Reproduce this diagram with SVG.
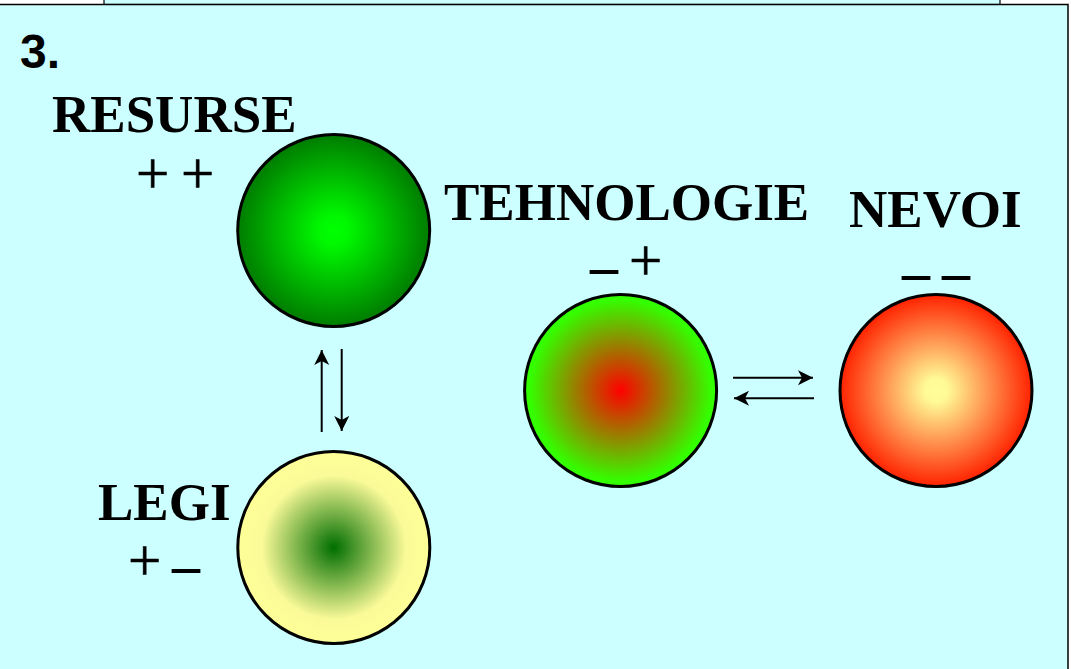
<svg xmlns="http://www.w3.org/2000/svg" width="1071" height="669" viewBox="0 0 1071 669">
  <style>
    .lbl { font-family: "Liberation Serif", "Times New Roman", serif; font-weight: bold; font-size: 53px; fill: #000; }
    .sign { font-family: "Liberation Serif", "Times New Roman", serif; font-size: 59px; fill: #000; stroke: #000; stroke-width: 0.6; }
    .dash { font-family: "Liberation Serif", "Times New Roman", serif; font-weight: bold; font-size: 56px; fill: #000; }
    .num { font-family: "Liberation Sans", Arial, sans-serif; font-weight: bold; font-size: 48px; fill: #000; }
    .ball { stroke: #000; stroke-width: 3; }
    .conn { stroke: #000; stroke-width: 2; fill: none; marker-end: url(#arr); }
  </style>
  <defs>
    <marker id="arr" markerUnits="userSpaceOnUse" markerWidth="16" markerHeight="16" refX="15" refY="7.5" orient="auto">
      <path d="M0,0 L15,7.5 L0,15 L4,7.5 z" fill="#000"/>
    </marker>
    <radialGradient id="gRes" cx="50%" cy="50%" r="50%">
      <stop offset="0" stop-color="#00ff00"/>
      <stop offset="0.15" stop-color="#00f800"/>
      <stop offset="1" stop-color="#007c00"/>
    </radialGradient>
    <radialGradient id="gLegi" cx="50%" cy="50%" r="50%">
      <stop offset="0" stop-color="#006e00"/>
      <stop offset="0.75" stop-color="#fafa98"/>
      <stop offset="1" stop-color="#ffff99"/>
    </radialGradient>
    <radialGradient id="gTech" cx="50%" cy="50%" r="50%">
      <stop offset="0" stop-color="#ff0000"/>
      <stop offset="0.95" stop-color="#33ff00"/>
      <stop offset="1" stop-color="#33ff00"/>
    </radialGradient>
    <radialGradient id="gNev" cx="50%" cy="50%" r="50%">
      <stop offset="0" stop-color="#ffff99"/>
      <stop offset="0.12" stop-color="#fffa96"/>
      <stop offset="1" stop-color="#ff2200"/>
    </radialGradient>
  </defs>

  <g id="background">
    <rect x="0" y="0" width="1071" height="669" fill="#ffffff"/>
    <rect x="104" y="-2" width="896" height="6.5" fill="#ccffff" stroke="#000" stroke-width="1.2"/>
    <rect x="-2" y="4.5" width="1070" height="670" fill="#ccffff" stroke="#000" stroke-width="1.5"/>
    <text class="num" x="20" y="68">3.</text>
  </g>

  <g id="connectors">
    <line class="conn" x1="321.7" y1="432" x2="321.7" y2="350"/>
    <line class="conn" x1="341.7" y1="349" x2="341.7" y2="431"/>
    <line class="conn" x1="733" y1="377.7" x2="813" y2="377.7"/>
    <line class="conn" x1="814" y1="398.3" x2="734" y2="398.3"/>
  </g>

  <g id="resurse">
    <circle class="ball" cx="333.7" cy="230.5" r="96" fill="url(#gRes)"/>
    <text class="lbl" x="52" y="132">RESURSE</text>
    <text class="sign" y="193"><tspan x="136">+</tspan><tspan x="181">+</tspan></text>
  </g>

  <g id="legi">
    <circle class="ball" cx="333.8" cy="547.5" r="96" fill="url(#gLegi)"/>
    <text class="lbl" x="98" y="520">LEGI</text>
    <text class="sign" x="128" y="580">+</text>
    <text class="dash" x="172" y="584">–</text>
  </g>

  <g id="tehnologie">
    <circle class="ball" cx="620.6" cy="390.5" r="96" fill="url(#gTech)"/>
    <text class="lbl" x="444" y="220">TEHNOLOGIE</text>
    <text class="dash" x="590" y="285">–</text>
    <text class="sign" x="629" y="280">+</text>
  </g>

  <g id="nevoi">
    <circle class="ball" cx="936" cy="390.5" r="96" fill="url(#gNev)"/>
    <text class="lbl" x="849" y="227">NEVOI</text>
    <text class="dash" y="291"><tspan x="902">–</tspan><tspan x="942">–</tspan></text>
  </g>
</svg>
